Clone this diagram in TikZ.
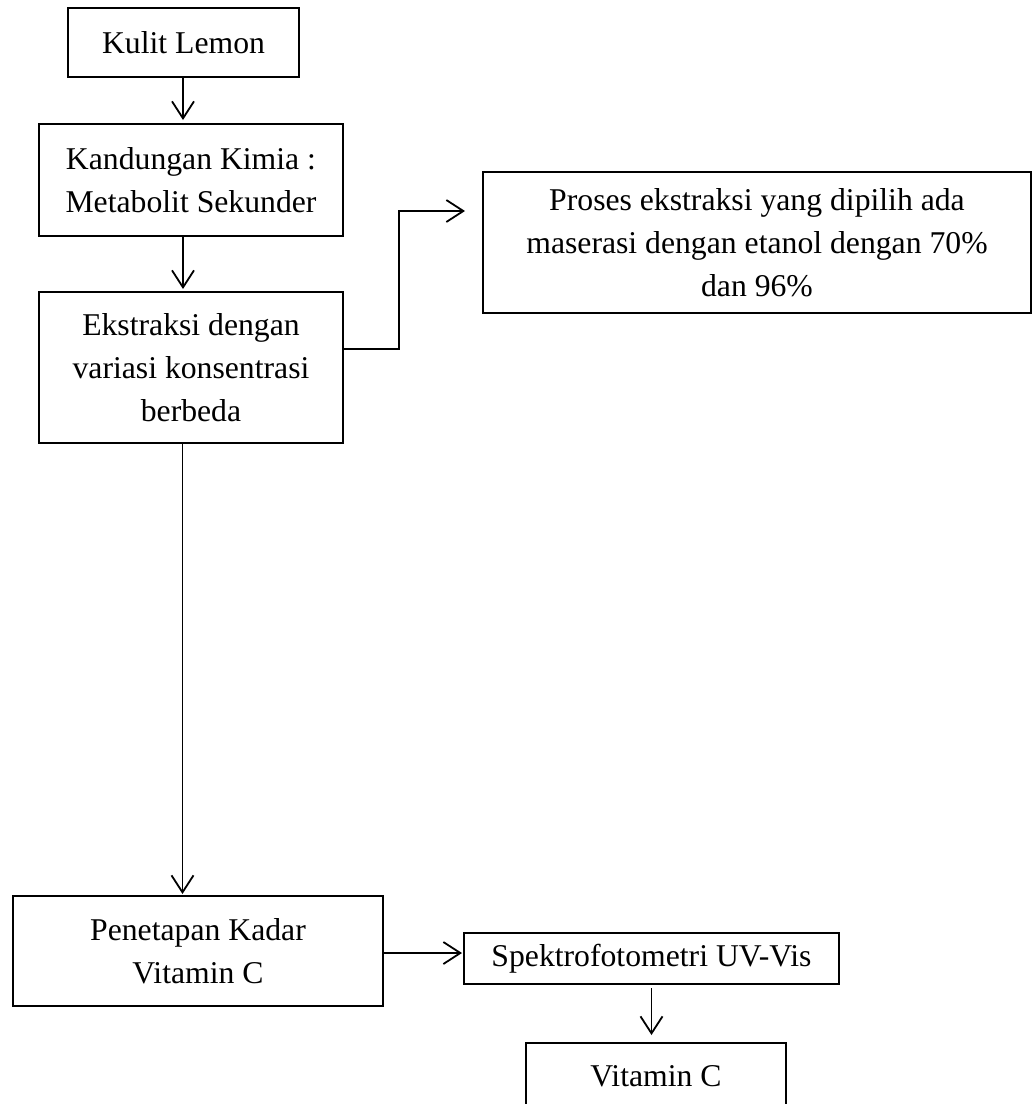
\documentclass[tikz,border=0pt]{standalone}
\usepackage{fontspec}
\setmainfont{Liberation Serif}
\usetikzlibrary{arrows.meta}
\begin{document}
\begin{tikzpicture}[x=1pt,y=-1pt,
  box/.style={draw=black, line width=2pt, inner sep=0pt, align=center,
    font=\fontsize{31.7pt}{43pt}\selectfont},
  arr/.style={draw=black, line width=1.8pt,
    -{Straight Barb[length=17pt,width=22pt,line width=1.8pt]}}]
\clip (0,0) rectangle (1032,1104);
\fill[white] (0,0) rectangle (1032,1104);

\node[box, minimum width=231pt, minimum height=69pt] (k1) at (183.5,42.5) {Kulit Lemon};
\node[box, minimum width=304pt, minimum height=112pt] (k2) at (191,180) {Kandungan Kimia :\\Metabolit Sekunder};
\node[box, minimum width=304pt, minimum height=151pt] (k3) at (191,367.5) {Ekstraksi dengan\\variasi konsentrasi\\berbeda};
\node[box, minimum width=548pt, minimum height=141pt] (k4) at (757,242.5) {Proses ekstraksi yang dipilih ada\\maserasi dengan etanol dengan 70\%\\dan 96\%};
\node[box, minimum width=370pt, minimum height=110pt] (k5) at (198,951) {Penetapan Kadar\\Vitamin C};
\node[box, minimum width=375pt, minimum height=51pt] (sp) at (651.5,958.5) {Spektrofotometri UV-Vis};
\node[box, minimum width=260pt, minimum height=66pt] (vc) at (656,1076) {Vitamin C};

\coordinate (colA) at (183,0);
\coordinate (colB) at (182.5,0);
\coordinate (j1) at (399,349);
\coordinate (t4) at (465,211);
\coordinate (r5) at (0,953);

\draw[arr, shorten >=3pt] (k1.south -| colA) -- (k2.north -| colA);
\draw[arr, shorten >=2pt] (k2.south -| colA) -- (k3.north -| colA);
\draw[arr] (k3.east |- j1) -- (j1) |- (t4);
\draw[arr, shorten >=1pt] (k3.south -| colB) -- (k5.north -| colB);
\draw[arr, shorten >=1pt] (k5.east |- r5) -- (sp.west |- r5);
\draw[arr, shorten <=3pt, shorten >=7pt] (sp.south) -- (sp.south |- vc.north);
\end{tikzpicture}
\end{document}
